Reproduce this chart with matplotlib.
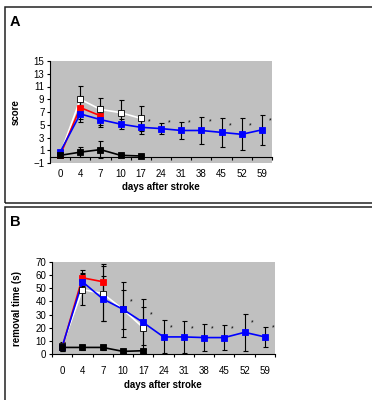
import matplotlib
matplotlib.use("Agg")
import matplotlib.pyplot as plt
from matplotlib.patches import Rectangle

plt.rcParams['font.family'] = ['Liberation Sans', 'DejaVu Sans']

days = ["0", "4", "7", "10", "17", "24", "31", "38", "45", "52", "59"]

# panel A: score
white_a = [0.3, 9.0, 7.4, 6.9, 6.0]
white_a_err = [0.3, 2.1, 1.8, 2.0, 2.0]
red_a = [0.2, 7.7, 6.4]
red_a_err = [0.2, 1.8, 1.5]
blue_a = [0.7, 6.7, 5.8, 5.1, 4.6, 4.4, 4.1, 4.1, 3.8, 3.5, 4.2]
blue_a_err = [0.4, 1.3, 1.1, 0.8, 1.1, 0.8, 1.35, 2.1, 2.25, 2.5, 2.3]
black_a = [0.2, 0.7, 1.1, 0.2, 0.1]
black_a_err = [0.2, 0.8, 1.3, 0.2, 0.1]
stars_a = [5.5, 5.3, 5.3, 5.4, 4.8, 4.8, 5.6]   # days 17..59

# panel B: removal time
white_b = [6, 49, 46, 34, 20]
white_b_err = [3, 12, 21, 21, 16]
red_b = [5, 58, 55]
red_b_err = [3, 6, 13.5]
blue_b = [5.5, 55, 42, 34, 24, 13, 13, 12.5, 12.5, 16.5, 13]
blue_b_err = [3, 7, 17, 15, 17.5, 12.5, 12, 10, 9.3, 14, 7.5]
black_b = [5, 5, 5, 2, 2.5]
black_b_err = [2, 2, 2, 1, 1.5]
stars_b = [39.6, 30, 20, 19.4, 19.4, 19.4, 24, 20]   # days 10..59

W, H = 372, 400
fig = plt.figure(figsize=(W / 100, H / 100), dpi=100)


def px_axes(x0, y0, x1, y1):
    return fig.add_axes([x0 / W, 1 - y1 / H, (x1 - x0) / W, (y1 - y0) / H])


def draw_series(ax, vals, errs, face, line):
    x = list(range(len(vals)))
    ax.errorbar(x, vals, yerr=errs, fmt='none', ecolor='black', elinewidth=0.8,
                capsize=1.8, capthick=0.8, zorder=2)
    ax.plot(x, vals, color=line, lw=1.2, zorder=3)
    ax.plot(x, vals, 's', ms=4.6, mfc=face, mec='black' if face in ('white', 'black') else face,
            mew=0.6, zorder=4)


def style_axes(ax, ylim, yticks, ylabel, label_pad):
    ax.set_facecolor('#c0c0c0')
    ax.set_xlim(-0.5, 10.5)
    ax.set_ylim(*ylim)
    ax.set_yticks(yticks)
    ax.tick_params(axis='y', labelsize=7, length=2.5, width=0.8, pad=1.5)
    ax.set_xticks([i - 0.5 for i in range(12)])
    ax.set_xticklabels([])
    ax.set_xticks(range(11), minor=True)
    ax.set_xticklabels(days, minor=True)
    ax.tick_params(axis='x', which='major', length=2.5, width=0.8, direction='out')
    ax.tick_params(axis='x', which='minor', length=0, pad=label_pad, labelsize=7)
    for s in ['top', 'right']:
        ax.spines[s].set_visible(False)
    ax.spines['bottom'].set_position(('data', 0))
    ax.spines['bottom'].set_linewidth(0.8)
    ax.spines['left'].set_linewidth(0.8)
    ax.set_ylabel(ylabel, fontsize=7, fontweight='bold')


# panel frames
fig.patches.append(Rectangle((5 / W, 1 - 203 / H), 380 / W, 196 / H, transform=fig.transFigure,
                             fill=False, lw=1.1, ec='#222222'))
fig.patches.append(Rectangle((5 / W, 1 - 405 / H), 380 / W, 198 / H, transform=fig.transFigure,
                             fill=False, lw=1.1, ec='#222222'))
fig.text(10 / W, 1 - 22 / H, "A", fontsize=10.5, fontweight='bold', va='center')
fig.text(10 / W, 1 - 222 / H, "B", fontsize=10.5, fontweight='bold', va='center')

# A
ax = px_axes(50, 61, 272, 163)
draw_series(ax, white_a, white_a_err, 'white', 'white')
draw_series(ax, red_a, red_a_err, 'red', 'red')
draw_series(ax, blue_a, blue_a_err, 'blue', 'blue')
draw_series(ax, black_a, black_a_err, 'black', 'black')
for i, y in enumerate(stars_a):
    ax.text(4 + i + 0.42, y, "*", fontsize=5, ha='center', va='center')
style_axes(ax, (-1, 15), range(-1, 16, 2), "score", 9)
fig.text(161 / W, 1 - 187 / H, "days after stroke", fontsize=7, fontweight='bold',
         ha='center', va='center')
ax.yaxis.set_label_coords(-29 / 222, 0.5)

# B
ax = px_axes(52, 262, 275, 354)
draw_series(ax, white_b, white_b_err, 'white', 'white')
draw_series(ax, red_b, red_b_err, 'red', 'red')
draw_series(ax, blue_b, blue_b_err, 'blue', 'blue')
draw_series(ax, black_b, black_b_err, 'black', 'black')
for i, y in enumerate(stars_b):
    ax.text(3 + i + 0.4, y, "*", fontsize=5, ha='center', va='center')
style_axes(ax, (0, 70), range(0, 71, 10), "removal time (s)", 8.5)
fig.text(163 / W, 1 - 385 / H, "days after stroke", fontsize=7, fontweight='bold',
         ha='center', va='center')
ax.yaxis.set_label_coords(-30 / 223, 0.5)

fig.savefig("out.png", dpi=100)
